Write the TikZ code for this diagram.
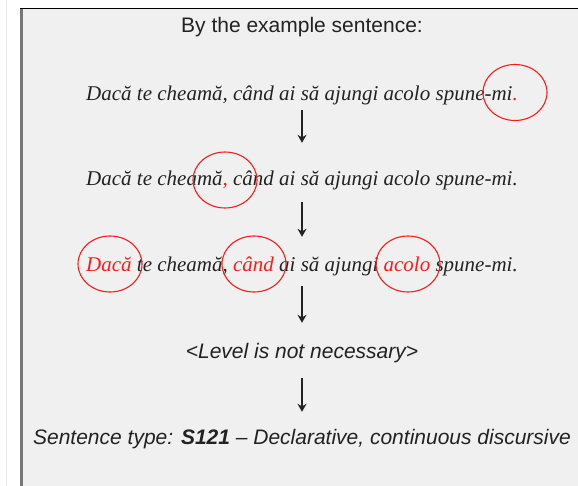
\documentclass[tikz,border=0pt]{standalone}
\usepackage{fontspec}
\setmainfont{Liberation Serif}
\setsansfont{Liberation Sans}
\usetikzlibrary{arrows.meta,shapes.geometric}
\definecolor{bg}{HTML}{F0F0F0}
\definecolor{ink}{HTML}{222222}
\definecolor{mark}{HTML}{FF1A1A}
\tikzset{
  sent/.style={font=\fontsize{21}{24}\selectfont\itshape, text=ink, inner sep=0pt, anchor=base, text height=15pt, text depth=5pt},
  lbl/.style={font=\fontsize{21}{24}\selectfont\sffamily, text=ink, inner sep=0pt, anchor=base, text height=15pt, text depth=5pt},
  arr/.style={draw=ink, line width=1.3pt, -{Stealth[length=8pt,width=9pt]}},
  ring/.style={ellipse, draw=mark, line width=1.1pt, minimum width=64pt, minimum height=56pt, inner sep=0pt}
}
\begin{document}
\begin{tikzpicture}[x=1pt,y=-1pt]
\useasboundingbox (0,0) rectangle (578,486);
\fill[white] (0,0) rectangle (578,486);
\draw[draw={rgb,255:red,232;green,232;blue,232}, line width=0.8pt] (6.5,0) -- (6.5,486);
\fill[bg] (21,8) rectangle (578,486);
\draw[draw={rgb,255:red,120;green,120;blue,120}, line width=2.4pt] (21.5,8) -- (21.5,486);
\draw[black, line width=1.6pt] (20.3,8.5) -- (578,8.5);

\node[lbl] (title) at (302,33) {By the example sentence:};
\node[sent] (l1) at (302,101) {Dacă te cheamă, când ai să ajungi acolo spune-mi\textcolor{mark}{.}};
\node[sent] (l2) at (302,186) {Dacă te cheamă\textcolor{mark}{,} când ai să ajungi acolo spune-mi.};
\node[sent] (l3) at (302,272) {\textcolor{mark}{Dacă} te cheamă, \textcolor{mark}{când} ai să ajungi \textcolor{mark}{acolo} spune-mi.};
\node[lbl, font=\fontsize{21}{24}\selectfont\sffamily\itshape] (lvl) at (302,358) {<Level is not necessary>};
\node[lbl, font=\fontsize{21}{24}\selectfont\sffamily\itshape] (type) at (302,444) {Sentence type: \textbf{S121} -- Declarative, continuous discursive};

\node[ring] (c1) at (515,92.5) {};
\node[ring] (c2) at (225,180) {};
\node[ring] (c3) at (110,264) {};
\node[ring] (c4) at (254,264) {};
\node[ring] (c5) at (408,264) {};

\draw[arr, shorten <=4pt, shorten >=28pt] (l1.south) -- (l2.north);
\draw[arr, shorten <=11pt, shorten >=20pt] (l2.south) -- (l3.north);
\draw[arr, shorten <=9pt, shorten >=20pt] (l3.south) -- (lvl.north);
\draw[arr, shorten <=15pt, shorten >=17pt] (lvl.south) -- (type.north);
\end{tikzpicture}
\end{document}
